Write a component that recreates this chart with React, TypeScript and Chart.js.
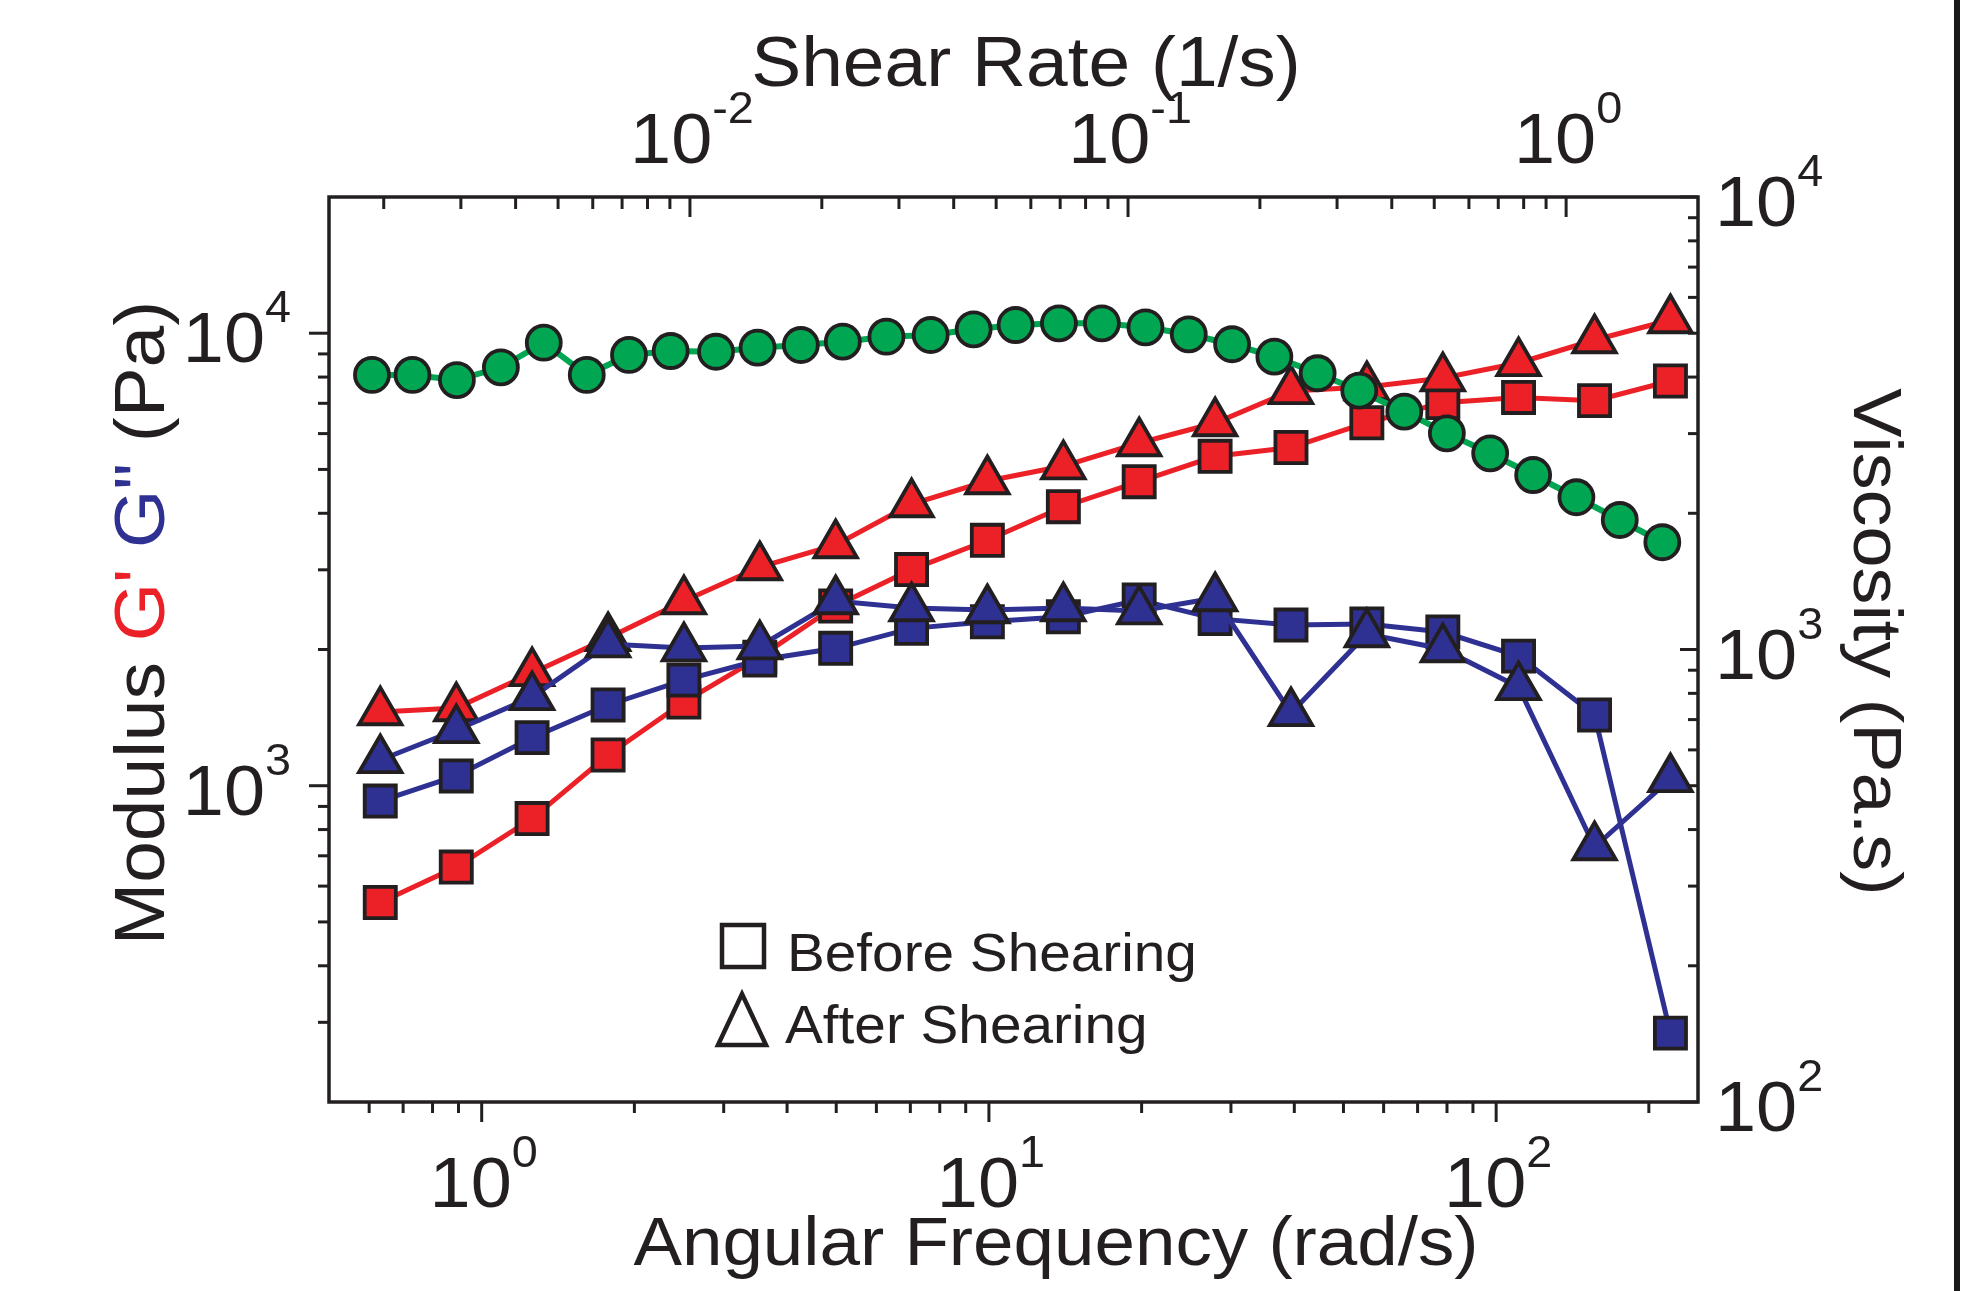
import { useEffect, useRef } from "react";
import { Chart, registerables } from "chart.js";

Chart.register(...registerables);

// ---------------- data ----------------
const omega = [0.631, 0.891, 1.257, 1.775, 2.504, 3.534, 4.987, 7.038, 9.93, 14.02, 19.78, 27.92, 39.4, 55.6, 78.5, 110.7, 156.3, 220.6];
const gPrimeBefore = [552, 661, 846, 1169, 1531, 1924, 2495, 3004, 3486, 4136, 4697, 5346, 5590, 6341, 7023, 7212, 7096, 7841];
const gPrimeAfter = [1455, 1485, 1775, 2121, 2560, 3043, 3404, 4193, 4714, 5087, 5720, 6332, 7455, 7606, 7961, 8596, 9661, 10696];
const gDoubleBefore = [925, 1051, 1277, 1508, 1712, 1896, 2012, 2227, 2303, 2363, 2573, 2340, 2265, 2277, 2186, 1934, 1433, 284];
const gDoubleAfter = [1140, 1328, 1571, 2056, 2015, 2035, 2560, 2470, 2445, 2470, 2432, 2599, 1448, 2164, 2005, 1653, 732, 1035];

const shearRate = [0.00188, 0.002326, 0.002938, 0.003702, 0.004638, 0.005814, 0.007259, 0.009036, 0.01147, 0.01427, 0.01791, 0.02233, 0.02809, 0.03544, 0.04442, 0.05538, 0.06955, 0.08716, 0.1096, 0.1376, 0.1728, 0.2158, 0.2709, 0.3372, 0.4272, 0.5343, 0.6709, 0.8409, 1.0556, 1.3258, 1.658];
const viscosity = [4043, 4043, 3940, 4204, 4764, 4043, 4476, 4567, 4550, 4645, 4709, 4789, 4912, 4955, 5100, 5213, 5259, 5259, 5153, 4973, 4727, 4437, 4078, 3732, 3354, 3005, 2714, 2430, 2170, 1933, 1726];

// axis ranges and ticks
const omegaRange = [0.5, 250];
const shearRange = [0.0015, 2];
const modulusRange = [200, 20000];
const viscRange = [100, 10000];

const bottomMajor = [1, 10, 100];
const bottomExp = ["0", "1", "2"];
const bottomMinor = [0.6, 0.7, 0.8, 0.9, 2, 3, 4, 5, 6, 7, 8, 9, 20, 30, 40, 50, 60, 70, 80, 90, 200];
const topMajor = [0.01, 0.1, 1];
const topExp = ["-2", "-1", "0"];
const topMinor = [0.002, 0.003, 0.004, 0.005, 0.006, 0.007, 0.008, 0.009, 0.02, 0.03, 0.04, 0.05, 0.06, 0.07, 0.08, 0.09, 0.2, 0.3, 0.4, 0.5, 0.6, 0.7, 0.8, 0.9];
const leftMajor = [1000, 10000];
const leftExp = ["3", "4"];
const leftMinor = [300, 400, 500, 600, 700, 800, 900, 2000, 3000, 4000, 5000, 6000, 7000, 8000, 9000];
const rightMajor = [100, 1000, 10000];
const rightExp = ["2", "3", "4"];
const rightMinor = [200, 300, 400, 500, 600, 700, 800, 900, 2000, 3000, 4000, 5000, 6000, 7000, 8000, 9000];

// ---------------- styles ----------------
const INK = "#231F20";
const RED = "#EC2127";
const BLUE = "#2E3192";
const GREEN = "#00A651";
const FONT = '"Liberation Sans", Arial, Helvetica, sans-serif';
const SX = 1.07; // horizontal stretch of the lettering
const SX_TICK = 1.04;

function setFont(ctx: CanvasRenderingContext2D, size: number) {
  ctx.font = `${size}px ${FONT}`;
}
function textW(ctx: CanvasRenderingContext2D, s: string, size: number, sx: number) {
  ctx.save();
  setFont(ctx, size);
  const w = ctx.measureText(s).width * sx;
  ctx.restore();
  return w;
}
function drawText(ctx: CanvasRenderingContext2D, s: string, x: number, y: number, size: number, color: string, sx: number) {
  ctx.save();
  ctx.translate(x, y);
  ctx.scale(sx, 1);
  setFont(ctx, size);
  ctx.fillStyle = color;
  ctx.textAlign = "left";
  ctx.textBaseline = "alphabetic";
  ctx.fillText(s, 0, 0);
  ctx.restore();
}

const BASE = 71;
const SUP = 45;
const RAISE = 40;

function drawPow(ctx: CanvasRenderingContext2D, exp: string, x: number, baseline: number, anchor: "center" | "left" | "right") {
  const wb = textW(ctx, "10", BASE, SX_TICK);
  const we = textW(ctx, exp, SUP, SX_TICK);
  const total = wb + we;
  const x0 = anchor === "center" ? x - total / 2 : anchor === "right" ? x - total : x;
  drawText(ctx, "10", x0, baseline, BASE, INK, SX_TICK);
  drawText(ctx, exp, x0 + wb, baseline - RAISE, SUP, INK, SX_TICK);
}

function drawSegments(ctx: CanvasRenderingContext2D, segs: [string, string][], size: number) {
  const widths = segs.map(([s]) => textW(ctx, s, size, SX));
  const total = widths.reduce((a, b) => a + b, 0);
  let x = -total / 2;
  segs.forEach(([s, c], i) => {
    drawText(ctx, s, x, 0, size, c, SX);
    x += widths[i];
  });
}

const framePlugin = {
  id: "frame",
  beforeDraw(chart: any) {
    const ctx = chart.ctx as CanvasRenderingContext2D;
    ctx.save();
    ctx.fillStyle = "#ffffff";
    ctx.fillRect(0, 0, chart.width, chart.height);
    ctx.restore();
  },
  afterDraw(chart: any) {
    const ctx = chart.ctx as CanvasRenderingContext2D;
    const a = chart.chartArea;
    const sx = chart.scales.x, sx2 = chart.scales.x2, sy = chart.scales.y, sy2 = chart.scales.y2;
    ctx.save();
    ctx.strokeStyle = INK;
    ctx.lineCap = "butt";

    // ticks
    ctx.lineWidth = 3;
    const line = (x1: number, y1: number, x2: number, y2: number) => {
      ctx.beginPath();
      ctx.moveTo(x1, y1);
      ctx.lineTo(x2, y2);
      ctx.stroke();
    };
    // bottom: outward
    bottomMajor.forEach((v) => { const p = sx.getPixelForValue(v); line(p, a.bottom, p, a.bottom + 20); });
    bottomMinor.forEach((v) => { const p = sx.getPixelForValue(v); line(p, a.bottom, p, a.bottom + 11); });
    // top: inward
    topMajor.forEach((v) => { const p = sx2.getPixelForValue(v); line(p, a.top, p, a.top + 20); });
    topMinor.forEach((v) => { const p = sx2.getPixelForValue(v); line(p, a.top, p, a.top + 12); });
    // left: outward
    leftMajor.forEach((v) => { const p = sy.getPixelForValue(v); line(a.left, p, a.left - 20, p); });
    leftMinor.forEach((v) => { const p = sy.getPixelForValue(v); line(a.left, p, a.left - 11, p); });
    // right: inward
    rightMajor.forEach((v) => { const p = sy2.getPixelForValue(v); line(a.right, p, a.right - 18, p); });
    rightMinor.forEach((v) => { const p = sy2.getPixelForValue(v); line(a.right, p, a.right - 10, p); });

    // frame
    ctx.lineWidth = 3.5;
    ctx.strokeRect(a.left, a.top, a.right - a.left, a.bottom - a.top);

    // tick labels
    bottomMajor.forEach((v, i) => drawPow(ctx, bottomExp[i], sx.getPixelForValue(v) + 2, a.bottom + 105, "center"));
    topMajor.forEach((v, i) => drawPow(ctx, topExp[i], sx2.getPixelForValue(v) + 2, a.top - 34, "center"));
    leftMajor.forEach((v, i) => drawPow(ctx, leftExp[i], a.left - 38, sy.getPixelForValue(v) + 29, "right"));
    rightMajor.forEach((v, i) => drawPow(ctx, rightExp[i], a.right + 17, sy2.getPixelForValue(v) + 29, "left"));

    // axis titles
    ctx.save();
    ctx.translate(1026, 86);
    drawSegments(ctx, [["Shear Rate (1/s)", INK]], 70);
    ctx.restore();

    ctx.save();
    ctx.translate(1056, 1265);
    drawSegments(ctx, [["Angular Frequency (rad/s)", INK]], 68);
    ctx.restore();

    ctx.save();
    ctx.translate(164, 623);
    ctx.rotate(-Math.PI / 2);
    drawSegments(ctx, [["Modulus ", INK], ["G'", RED], [" ", INK], ['G"', BLUE], [" (Pa)", INK]], 70);
    ctx.restore();

    ctx.save();
    ctx.translate(1854, 642);
    ctx.rotate(Math.PI / 2);
    drawSegments(ctx, [["Viscosity (Pa.s)", INK]], 69);
    ctx.restore();

    // legend
    ctx.lineWidth = 4.5;
    ctx.lineJoin = "miter";
    ctx.strokeRect(722, 925, 42, 42);
    ctx.beginPath();
    ctx.moveTo(742, 994);
    ctx.lineTo(766, 1045);
    ctx.lineTo(718, 1045);
    ctx.closePath();
    ctx.stroke();
    drawText(ctx, "Before Shearing", 787, 971, 53, INK, SX);
    drawText(ctx, "After Shearing", 785, 1043, 53, INK, SX);

    // dark edge at the right border of the picture
    ctx.fillStyle = "#1a1a1a";
    ctx.fillRect(1954, 0, 6, chart.height);

    ctx.restore();
  },
};

function pts(xs: number[], ys: number[]) {
  return xs.map((x, i) => ({ x, y: ys[i] }));
}

export default function App() {
  const ref = useRef<HTMLCanvasElement>(null);
  useEffect(() => {
    if (!ref.current) return;
    const marker = (color: string, lineW: number, style: string, r: number) => ({
      borderColor: color,
      borderWidth: lineW,
      backgroundColor: color,
      pointBackgroundColor: color,
      pointBorderColor: INK,
      pointBorderWidth: 3.8,
      pointStyle: style,
      pointRadius: r,
      tension: 0,
      fill: false,
      clip: false as any,
    });
    const chart = new Chart(ref.current, {
      type: "line",
      data: {
        datasets: [
          { label: "Viscosity", data: pts(shearRate, viscosity), xAxisID: "x2", yAxisID: "y2", ...marker(GREEN, 6, "circle", 17) },
          { label: "G'' after", data: pts(omega, gDoubleAfter), xAxisID: "x", yAxisID: "y", ...marker(BLUE, 5, "triangle", 24.5) },
          { label: "G'' before", data: pts(omega, gDoubleBefore), xAxisID: "x", yAxisID: "y", ...marker(BLUE, 5, "rect", 22) },
          { label: "G' after", data: pts(omega, gPrimeAfter), xAxisID: "x", yAxisID: "y", ...marker(RED, 5, "triangle", 24.5) },
          { label: "G' before", data: pts(omega, gPrimeBefore), xAxisID: "x", yAxisID: "y", ...marker(RED, 5, "rect", 22) },
        ] as any,
      },
      options: {
        responsive: false,
        animation: false,
        devicePixelRatio: 1,
        events: [],
        layout: { padding: { left: 329, right: 272, top: 197, bottom: 189 } },
        plugins: { legend: { display: false }, tooltip: { enabled: false } },
        scales: {
          x: { type: "logarithmic", min: omegaRange[0], max: omegaRange[1], display: false },
          x2: { type: "logarithmic", position: "top", min: shearRange[0], max: shearRange[1], display: false },
          y: { type: "logarithmic", min: modulusRange[0], max: modulusRange[1], display: false },
          y2: { type: "logarithmic", position: "right", min: viscRange[0], max: viscRange[1], display: false },
        },
      } as any,
      plugins: [framePlugin as any],
    });
    return () => chart.destroy();
  }, []);
  return (
    <div style={{ position: "absolute", left: 0, top: 0, width: 1970, height: 1291, background: "#fff" }}>
      <canvas ref={ref} width={1970} height={1291} style={{ display: "block", width: 1970, height: 1291 }} />
    </div>
  );
}
